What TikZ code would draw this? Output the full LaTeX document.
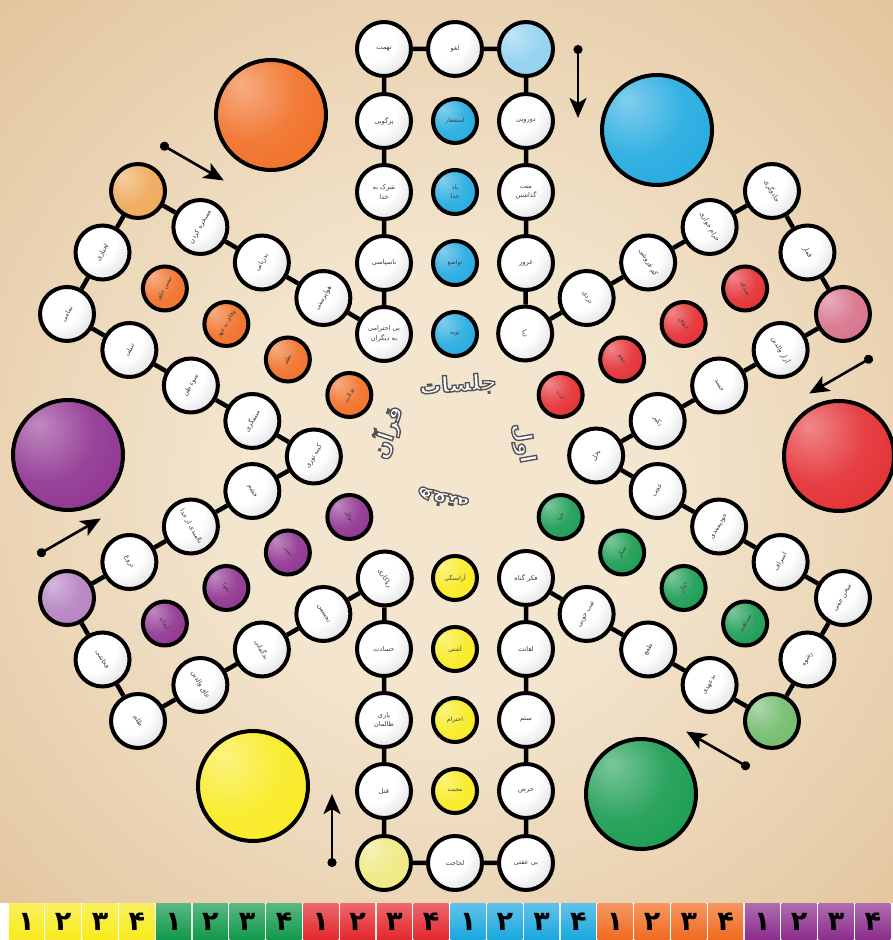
\documentclass[tikz,border=0pt]{standalone}
\usepackage{fontspec}
\usepackage{graphicx}
\usetikzlibrary{calc,arrows.meta}
\newfontfamily\arabicfont[Script=Arabic]{DejaVu Sans}
\newfontfamily\digitfont{DejaVu Sans}
\TeXXeTstate=1
\newcommand\fa[1]{{\arabicfont\beginR #1\endR}}
\newcommand\ctext[1]{{\arabicfont\bfseries\fontsize{22}{22}\selectfont\color{white}\special{pdf:literal direct 2 Tr 1.4 w 0.33 0.33 0.33 RG}\beginR #1\endR\special{pdf:literal direct 0 Tr}}}
\definecolor{bgin}{HTML}{F3E5CE}
\definecolor{bgout}{HTML}{DDB98B}
\definecolor{cblue}{HTML}{1AA7DF}
\definecolor{cred}{HTML}{E3262B}
\definecolor{cgreen}{HTML}{10984A}
\definecolor{cyellow}{HTML}{F8EA1A}
\definecolor{cpurple}{HTML}{8B2B8C}
\definecolor{corange}{HTML}{F06A1E}
\definecolor{lblue}{HTML}{8CCFEF}
\definecolor{lred}{HTML}{D56C86}
\definecolor{lgreen}{HTML}{6DB866}
\definecolor{lyellow}{HTML}{EFE87C}
\definecolor{lpurple}{HTML}{B17DBE}
\definecolor{lorange}{HTML}{EDA552}
\definecolor{txtc}{HTML}{3A3A3A}
\colorlet{ballc}{red}
\pgfdeclareradialshading{wball}{\pgfpoint{-14bp}{14bp}}{color(0bp)=(white); color(22bp)=(white); color(50bp)=(black!22); color(80bp)=(black!35)}
\pgfdeclareradialshading[ballc]{cball}{\pgfpoint{-14bp}{14bp}}{color(0bp)=(ballc!55!white); color(22bp)=(ballc!88!white); color(50bp)=(ballc); color(80bp)=(ballc!88!black)}
\pgfdeclareradialshading{bgshade}{\pgfpoint{0bp}{-2bp}}{color(0bp)=(bgin); color(12bp)=(bgin); color(45bp)=(bgout); color(75bp)=(bgout!92!black)}
\tikzset{
 cb/.style={/utils/exec={\colorlet{ballc}{#1}}, shading=cball},
 trk/.style={circle, draw=black, line width=4pt, minimum size=54pt, inner sep=0pt, shading=wball, font=\fontsize{6.6}{7.4}\selectfont, text=txtc},
 startc/.style={trk, cb=#1},
 homec/.style={circle, draw=black, line width=4pt, minimum size=44pt, inner sep=0pt, cb=#1, font=\fontsize{6}{6.8}\selectfont, text=black!75},
 bigc/.style={circle, draw=black, line width=4pt, minimum size=110pt, inner sep=0pt, cb=#1},
 conn/.style={line width=4.5pt, black},
 arr/.style={line width=2.6pt, black, arrows={Circle[length=9pt]-Stealth[length=20pt,width=17pt,inset=5pt]}},
 tile/.style={rectangle, minimum width=35pt, minimum height=36pt, inner sep=0pt, font=\digitfont\bfseries\fontsize{27}{27}\selectfont, text=black}
}
\newcommand\cell[6]{\node[#5] (#1) at ($(C)+(#2:#3pt)+(#2-90:#4pt)$) {\rotatebox{\rot}{\shortstack{#6}}};}
\begin{document}
\begin{tikzpicture}[x=1pt,y=1pt]
\useasboundingbox (0,0) rectangle (893,940);
\fill[white] (0,0) rectangle (893,940);
\shade[shading=bgshade] (0,37) rectangle (893,940);
\coordinate (C) at (455,484);
% ---------- big home circles
\node[bigc=cblue] (bigB) at (657,810) {};
\node[bigc=cred] (bigR) at (839,484) {};
\node[bigc=cgreen] (bigG) at (641,146) {};
\node[bigc=cyellow] (bigY) at (253,154) {};
\node[bigc=cpurple] (bigP) at (68,485) {};
\node[bigc=corange] (bigO) at (271,825) {};
% ---------- blue arm (top)
\def\rot{0}
\cell{cB}{90}{122}{-71}{trk}{\fa{بی احترامی}\\\fa{به دیگران}}
\cell{B1}{90}{193}{-71}{trk}{\fa{ناسپاسی}}
\cell{B2}{90}{264}{-71}{trk}{\fa{شرک به}\\\fa{خدا}}
\cell{B3}{90}{335}{-71}{trk}{\fa{پرگویی}}
\cell{B4}{90}{407}{-71}{trk}{\fa{تهمت}}
\cell{BM}{90}{407}{0}{trk}{\fa{لغو}}
\cell{BS}{90}{407}{71}{startc=lblue}{}
\cell{B7}{90}{335}{71}{trk}{\fa{دورویی}}
\cell{B8}{90}{264}{71}{trk}{\fa{منت}\\\fa{گذاشتن}}
\cell{B9}{90}{193}{71}{trk}{\fa{غرور}}
\cell{BH1}{90}{122}{0}{homec=cblue}{\fa{توبه}}
\cell{BH2}{90}{193}{0}{homec=cblue}{\fa{تواضع}}
\cell{BH3}{90}{264}{0}{homec=cblue}{\fa{یاد}\\\fa{خدا}}
\cell{BH4}{90}{335}{0}{homec=cblue}{\fa{استغفار}}
% ---------- red arm (upper right)
\def\rot{-60}
\cell{cR}{30}{122}{-71}{trk}{\fa{ربا}}
\cell{R1}{30}{193}{-71}{trk}{\fa{دزدی}}
\cell{R2}{30}{264}{-71}{trk}{\fa{کم فروشی}}
\cell{R3}{30}{335}{-71}{trk}{\fa{حرام خواری}}
\cell{R4}{30}{407}{-71}{trk}{\fa{جادوگری}}
\cell{RM}{30}{407}{0}{trk}{\fa{قمار}}
\cell{RS}{30}{407}{71}{startc=lred}{}
\cell{R7}{30}{335}{71}{trk}{\fa{آزار والدین}}
\cell{R8}{30}{264}{71}{trk}{\fa{حسد}}
\cell{R9}{30}{193}{71}{trk}{\fa{تکبر}}
\cell{RH1}{30}{122}{0}{homec=cred}{\fa{ادب}}
\cell{RH2}{30}{193}{0}{homec=cred}{\fa{عفو}}
\cell{RH3}{30}{264}{0}{homec=cred}{\fa{انفاق}}
\cell{RH4}{30}{335}{0}{homec=cred}{\fa{صدقه}}
% ---------- green arm (lower right)
\def\rot{60}
\cell{cG}{-30}{122}{-71}{trk}{\fa{بخل}}
\cell{G1}{-30}{193}{-71}{trk}{\fa{عجب}}
\cell{G2}{-30}{264}{-71}{trk}{\fa{خودپسندی}}
\cell{G3}{-30}{335}{-71}{trk}{\fa{اسراف}}
\cell{G4}{-30}{407}{-71}{trk}{\fa{سخن چینی}}
\cell{GM}{-30}{407}{0}{trk}{\fa{رشوه}}
\cell{GS}{-30}{407}{71}{startc=lgreen}{}
\cell{G7}{-30}{335}{71}{trk}{\fa{بدعهدی}}
\cell{G8}{-30}{264}{71}{trk}{\fa{طمع}}
\cell{G9}{-30}{193}{71}{trk}{\fa{عیب جویی}}
\cell{GH1}{-30}{122}{0}{homec=cgreen}{\fa{حیا}}
\cell{GH2}{-30}{193}{0}{homec=cgreen}{\fa{شکر}}
\cell{GH3}{-30}{264}{0}{homec=cgreen}{\fa{ایثار}}
\cell{GH4}{-30}{335}{0}{homec=cgreen}{\fa{صداقت}}
% ---------- yellow arm (bottom)
\def\rot{0}
\cell{cY}{-90}{122}{-71}{trk}{\fa{فکر گناه}}
\cell{Y1}{-90}{193}{-71}{trk}{\fa{اهانت}}
\cell{Y2}{-90}{264}{-71}{trk}{\fa{ستم}}
\cell{Y3}{-90}{335}{-71}{trk}{\fa{حرص}}
\cell{Y4}{-90}{407}{-71}{trk}{\fa{بی عفتی}}
\cell{YM}{-90}{407}{0}{trk}{\fa{لجاجت}}
\cell{YS}{-90}{407}{71}{startc=lyellow}{}
\cell{Y7}{-90}{335}{71}{trk}{\fa{قتل}}
\cell{Y8}{-90}{264}{71}{trk}{\fa{یاری}\\\fa{ظالمان}}
\cell{Y9}{-90}{193}{71}{trk}{\fa{حسادت}}
\cell{YH1}{-90}{122}{0}{homec=cyellow}{\fa{آراستگی}}
\cell{YH2}{-90}{193}{0}{homec=cyellow}{\fa{آشتی}}
\cell{YH3}{-90}{264}{0}{homec=cyellow}{\fa{احترام}}
\cell{YH4}{-90}{335}{0}{homec=cyellow}{\fa{محبت}}
% ---------- purple arm (lower left)
\def\rot{-60}
\cell{cP}{210}{122}{-71}{trk}{\fa{ریاکاری}}
\cell{P1}{210}{193}{-71}{trk}{\fa{تجسس}}
\cell{P2}{210}{264}{-71}{trk}{\fa{بدگمانی}}
\cell{P3}{210}{335}{-71}{trk}{\fa{عاق والدین}}
\cell{P4}{210}{407}{-71}{trk}{\fa{ظلم}}
\cell{PM}{210}{407}{0}{trk}{\fa{فحاشی}}
\cell{PS}{210}{407}{71}{startc=lpurple}{}
\cell{P7}{210}{335}{71}{trk}{\fa{دروغ}}
\cell{P8}{210}{264}{71}{trk}{\fa{ناامیدی از خدا}}
\cell{P9}{210}{193}{71}{trk}{\fa{خشم}}
\cell{PH1}{210}{122}{0}{homec=cpurple}{\fa{توکل}}
\cell{PH2}{210}{193}{0}{homec=cpurple}{\fa{صبر}}
\cell{PH3}{210}{264}{0}{homec=cpurple}{\fa{تقوا}}
\cell{PH4}{210}{335}{0}{homec=cpurple}{\fa{ایمان}}
% ---------- orange arm (upper left)
\def\rot{60}
\cell{cO}{150}{122}{-71}{trk}{\fa{کینه توزی}}
\cell{O1}{150}{193}{-71}{trk}{\fa{ستمگری}}
\cell{O2}{150}{264}{-71}{trk}{\fa{سوء ظن}}
\cell{O3}{150}{335}{-71}{trk}{\fa{تنبلی}}
\cell{O4}{150}{407}{-71}{trk}{\fa{نمامی}}
\cell{OM}{150}{407}{0}{trk}{\fa{لجبازی}}
\cell{OS}{150}{407}{71}{startc=lorange}{}
\cell{O7}{150}{335}{71}{trk}{\fa{مسخره کردن}}
\cell{O8}{150}{264}{71}{trk}{\fa{بدزبانی}}
\cell{O9}{150}{193}{71}{trk}{\fa{هواپرستی}}
\cell{OH1}{150}{122}{0}{homec=corange}{\fa{عدالت}}
\cell{OH2}{150}{193}{0}{homec=corange}{\fa{نظم}}
\cell{OH3}{150}{264}{0}{homec=corange}{\fa{وفای به عهد}}
\cell{OH4}{150}{335}{0}{homec=corange}{\fa{حسن خلق}}
% ---------- connectors
\draw[conn] (cB) -- (B1) -- (B2) -- (B3) -- (B4) -- (BM) -- (BS) -- (B7) -- (B8) -- (B9) -- (cR);
\draw[conn] (cR) -- (R1) -- (R2) -- (R3) -- (R4) -- (RM) -- (RS) -- (R7) -- (R8) -- (R9) -- (cG);
\draw[conn] (cG) -- (G1) -- (G2) -- (G3) -- (G4) -- (GM) -- (GS) -- (G7) -- (G8) -- (G9) -- (cY);
\draw[conn] (cY) -- (Y1) -- (Y2) -- (Y3) -- (Y4) -- (YM) -- (YS) -- (Y7) -- (Y8) -- (Y9) -- (cP);
\draw[conn] (cP) -- (P1) -- (P2) -- (P3) -- (P4) -- (PM) -- (PS) -- (P7) -- (P8) -- (P9) -- (cO);
\draw[conn] (cO) -- (O1) -- (O2) -- (O3) -- (O4) -- (OM) -- (OS) -- (O7) -- (O8) -- (O9) -- (cB);
% ---------- entry arrows
\foreach \n/\t in {B/90, R/30, G/-30, Y/-90, P/210, O/150}{
  \coordinate (tail\n) at ($(C)+(\t:411pt)+(\t-90:123pt)$);
  \coordinate (head\n) at ($(C)+(\t:338pt)+(\t-90:123pt)$);
  \draw[arr] (tail\n) -- (head\n);
}
% ---------- centre title
\node[rotate=4, inner sep=0pt] (w1) at (458,555) {\ctext{جلسات}};
\node[rotate=72, inner sep=0pt] (w2) at (387,508) {\ctext{قرآن}};
\node[rotate=167, inner sep=0pt] (w3) at (443,441) {\ctext{هفته}};
\node[rotate=-80, inner sep=0pt] (w4) at (523,497) {\ctext{اول}};
% ---------- bottom strip
\foreach \i in {0,...,23}{
  \pgfmathtruncatemacro\g{int(\i/4)}
  \pgfmathtruncatemacro\d{mod(\i,4)}
  \ifcase\g \def\tc{cyellow}\or \def\tc{cgreen}\or \def\tc{cred}\or \def\tc{cblue}\or \def\tc{corange}\or \def\tc{cpurple}\fi
  \ifcase\d \def\dg{۱}\or \def\dg{۲}\or \def\dg{۳}\or \def\dg{۴}\fi
  \node[tile, top color=\tc!70!white, bottom color=\tc] (tile\i) at ({26.4+\i*36.8}, 18) {\dg};
}
\end{tikzpicture}
\end{document}
